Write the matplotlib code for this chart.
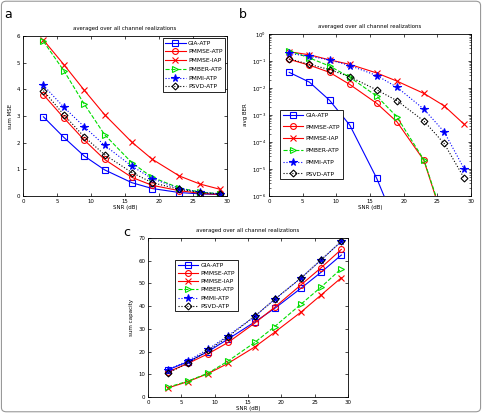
import numpy as np
import matplotlib
matplotlib.use('Agg')
import matplotlib.pyplot as plt
from matplotlib.patches import FancyBboxPatch

# SNR points shared by every curve
snr = [3, 6, 9, 12, 16, 19, 23, 26, 29]
names = ['GIA-ATP', 'PMMSE-ATP', 'PMMSE-IAP', 'PMBER-ATP', 'PMMI-ATP', 'PSVD-ATP']

# (a) sum MSE
mse_gia = [2.97, 2.2, 1.5, 0.98, 0.5, 0.28, 0.13, 0.08, 0.05]
mse_pmmse_atp = [3.8, 2.93, 2.1, 1.37, 0.7, 0.4, 0.2, 0.1, 0.06]
mse_pmmse_iap = [5.85, 4.93, 3.97, 3.05, 2.02, 1.38, 0.75, 0.45, 0.25]
mse_pmber = [5.8, 4.7, 3.45, 2.3, 1.25, 0.7, 0.3, 0.15, 0.08]
mse_pmmi = [4.15, 3.33, 2.6, 1.9, 1.12, 0.65, 0.28, 0.15, 0.08]
mse_psvd = [3.95, 3.05, 2.22, 1.55, 0.88, 0.5, 0.25, 0.13, 0.07]

# (b) average BER
ber_gia = [0.038, 0.0165, 3.5e-3, 4.2e-4, 4.5e-6, 7e-8, 1e-10, 1e-11, 1e-12]
ber_pmmse_atp = [0.115, 0.07, 0.038, 0.0135, 2.7e-3, 5.6e-4, 2.1e-5, 1e-7, 1e-9]
ber_pmmse_iap = [0.22, 0.17, 0.11, 0.075, 0.036, 0.018, 6.3e-3, 2.2e-3, 4.5e-4]
ber_pmber = [0.24, 0.13, 0.065, 0.025, 5e-3, 8.5e-4, 2.2e-5, 1.2e-7, 1e-9]
ber_pmmi = [0.19, 0.15, 0.11, 0.068, 0.029, 0.0107, 1.65e-3, 2.4e-4, 1e-5]
ber_psvd = [0.12, 0.075, 0.048, 0.026, 8.5e-3, 3.4e-3, 6e-4, 8.9e-5, 4.5e-6]

# (c) sum capacity
cap_gia = [12, 15.5, 20, 25.5, 33, 39, 48, 55, 62.5]
cap_pmmse_atp = [11, 14.8, 19, 24, 32.5, 39.5, 49.5, 57, 65]
cap_pmmse_iap = [4, 6.8, 10.3, 14.8, 22, 28.5, 37.5, 45, 52.5]
cap_pmber = [4.3, 7, 10.5, 15.8, 24, 31, 41, 48.5, 56.5]
cap_pmmi = [12, 16, 21, 27, 35.5, 43, 52.5, 60.5, 68.5]
cap_psvd = [10.5, 15, 20.5, 26.5, 35.5, 43, 52.5, 60.5, 68.5]

styles = [
    dict(color='#0000ff', ls='-', marker='s', mfc='none'),
    dict(color='#ff0000', ls='-', marker='o', mfc='none'),
    dict(color='#ff0000', ls='-', marker='x', mfc='none'),
    dict(color='#00dd00', ls='--', marker='>', mfc='none'),
    dict(color='#0000ff', ls=':', marker='*', mfc='#0000cc'),
    dict(color='#000000', ls=':', marker='D', mfc='none'),
]

W, H = 482, 413
fig = plt.figure(figsize=(W / 100, H / 100), dpi=100)
fig.patch.set_facecolor('white')
fig.patches.append(FancyBboxPatch((0.003, 0.003), 0.994, 0.994,
                                  boxstyle='round,pad=0,rounding_size=0.01',
                                  transform=fig.transFigure, fill=False,
                                  ec='#999999', lw=0.8))


def px_axes(x0, y0, x1, y1):
    return fig.add_axes([x0 / W, 1 - y1 / H, (x1 - x0) / W, (y1 - y0) / H])


def style_axes(ax, ylabel):
    ax.set_xlim(0, 30)
    ax.set_xticks(np.arange(0, 31, 5))
    ax.tick_params(direction='in', top=True, right=True, labelsize=3.9,
                   length=2, width=0.5, pad=2)
    ax.tick_params(which='minor', direction='in', top=True, right=True,
                   length=1.2, width=0.4)
    for s in ax.spines.values():
        s.set_linewidth(0.6)
    ax.set_xlabel('SNR (dB)', fontsize=4, labelpad=1)
    ax.set_ylabel(ylabel, fontsize=4, labelpad=3)
    ax.set_title('averaged over all channel realizations', fontsize=3.9, pad=4)


def draw(ax, series, ms=4.2):
    for name, y, st in zip(names, series, styles):
        size = ms + 1.3 if st['marker'] == '*' else ms
        if st['marker'] == 'D':
            size = ms - 0.7
        ax.plot(snr, y, color=st['color'], ls=st['ls'], lw=0.8,
                marker=st['marker'], mfc=st['mfc'], mec=st['color'],
                ms=size, mew=0.8, label=name)


def legend(ax, spacing, **kw):
    leg = ax.legend(fontsize=4.3, handlelength=3.4, borderpad=0.45,
                    labelspacing=spacing, handletextpad=0.4, fancybox=False,
                    framealpha=1, **kw)
    leg.get_frame().set_edgecolor('black')
    leg.get_frame().set_linewidth(0.6)


# panel a
ax_a = px_axes(23, 36, 227, 196)
draw(ax_a, [mse_gia, mse_pmmse_atp, mse_pmmse_iap, mse_pmber, mse_pmmi, mse_psvd])
style_axes(ax_a, 'sum MSE')
ax_a.set_ylim(0, 6)
legend(ax_a, 0.6, loc='upper right', borderaxespad=0.3)

# panel b
ax_b = px_axes(269, 34, 471, 196)
draw(ax_b, [ber_gia, ber_pmmse_atp, ber_pmmse_iap, ber_pmber, ber_pmmi, ber_psvd])
ax_b.set_yscale('log')
style_axes(ax_b, 'avg BER')
ax_b.set_ylim(1e-6, 1)
legend(ax_b, 1.1, loc='lower left', bbox_to_anchor=(0.04, 0.085))

# panel c
ax_c = px_axes(148, 238, 348, 397)
draw(ax_c, [cap_gia, cap_pmmse_atp, cap_pmmse_iap, cap_pmber, cap_pmmi, cap_psvd])
style_axes(ax_c, 'sum capacity')
ax_c.set_ylim(0, 70)
ax_c.set_yticks(np.arange(0, 71, 10))
legend(ax_c, 0.5, loc='upper left', bbox_to_anchor=(0.12, 0.88))

for lbl, x, y in [('a', 8, 14), ('b', 243, 15), ('c', 127, 233)]:
    fig.text(x / W, 1 - y / H, lbl, fontsize=9, ha='center', va='center')

fig.savefig('out.png', dpi=100)
